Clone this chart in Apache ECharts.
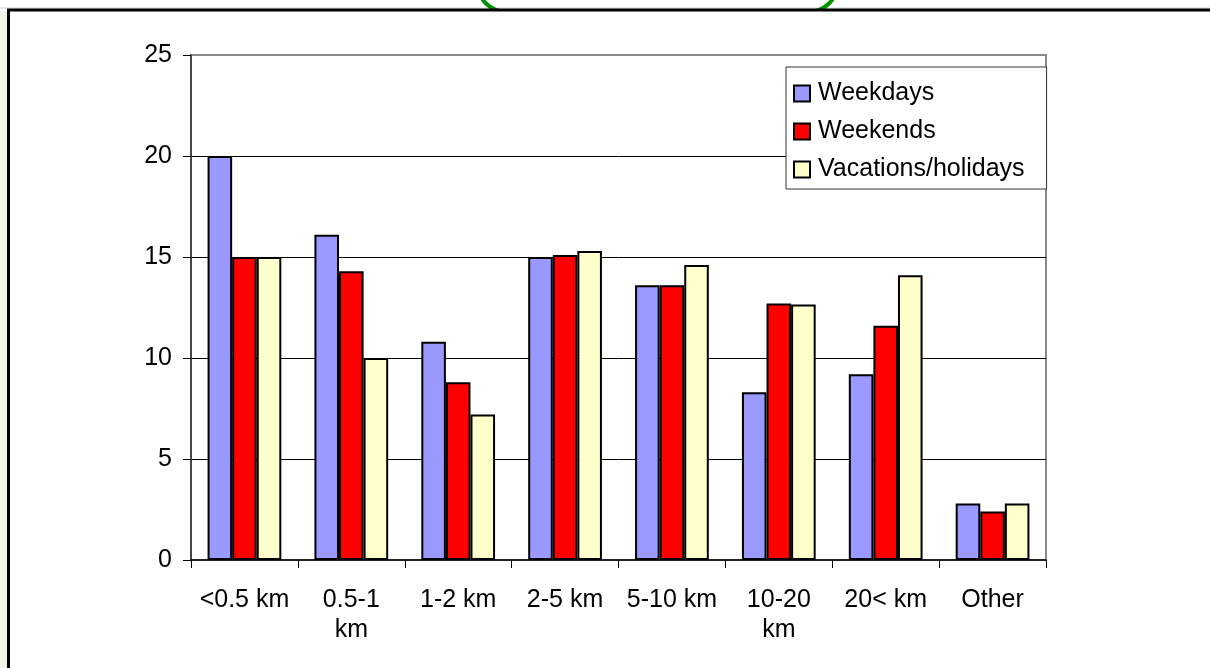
<!DOCTYPE html>
<html>
<head>
<meta charset="utf-8">
<script src="https://cdn.jsdelivr.net/npm/echarts@6/dist/echarts.min.js"></script>
<style>
  html, body { margin: 0; padding: 0; background: #fff; }
  #chart { width: 1210px; height: 668px; }
</style>
</head>
<body>
<div id="chart"></div>
<script>
// distance classes
const categories = ['<0.5 km', '0.5-1\nkm', '1-2 km', '2-5 km', '5-10 km', '10-20\nkm', '20< km', 'Other']
const weekdays = [20.0, 16.1, 10.8, 15.0, 13.6, 8.3, 9.2, 2.8]
const weekends = [15.0, 14.3, 8.8, 15.1, 13.6, 12.7, 11.6, 2.4]
const vacations = [15.0, 10.0, 7.2, 15.3, 14.6, 12.65, 14.1, 2.8]
const yTicks = [0, 5, 10, 15, 20, 25]

const font = 'Liberation Sans, Arial, sans-serif'

const chart = echarts.init(document.getElementById('chart'))

const barSeries = (name, data, color) => ({
  name,
  type: 'bar',
  data,
  barGap: '0%',
  barCategoryGap: '31%',
  itemStyle: { color, borderColor: '#000', borderWidth: 2 }
})

const option = {
  backgroundColor: '#fff',
  animation: false,
  textStyle: { fontFamily: font },
  graphic: [
    // slide decorations around the chart frame
    { type: 'rect', shape: { x: 0, y: 11, width: 7, height: 660 }, style: { fill: '#f4f4e4' }, z: -10 },
    { type: 'line', shape: { x1: 0, y1: 8, x2: 1210, y2: 8 }, style: { stroke: '#cfcfcf', lineWidth: 1 }, z: -10 },
    { type: 'rect', shape: { x: 477, y: -120, width: 361, height: 132, r: 30 }, style: { fill: 'none', stroke: '#009000', lineWidth: 4 }, z: -9 },
    { type: 'rect', shape: { x: 9, y: 11, width: 1205, height: 660 }, style: { fill: '#fff' }, z: -8 },
    { type: 'line', shape: { x1: 8.5, y1: 10, x2: 8.5, y2: 670 }, style: { stroke: '#000', lineWidth: 3 }, z: -7 },
    { type: 'line', shape: { x1: 7, y1: 10, x2: 1212, y2: 10 }, style: { stroke: '#000', lineWidth: 3 }, z: -7 }
  ],
  legend: {
    orient: 'vertical',
    left: 786,
    top: 67,
    icon: 'rect',
    itemWidth: 16,
    itemHeight: 16,
    itemGap: 13,
    padding: [14, 22, 7, 7],
    backgroundColor: '#fff',
    borderColor: '#333',
    borderWidth: 1,
    borderRadius: 0,
    textStyle: { fontSize: 25, color: '#000', fontFamily: font, padding: [0, 0, 0, 3] },
    data: ['Weekdays', 'Weekends', 'Vacations/holidays']
  },
  grid: {
    left: 191,
    right: 164,
    top: 55,
    bottom: 108,
    show: true,
    borderColor: '#888',
    borderWidth: 2
  },
  xAxis: {
    type: 'category',
    data: categories,
    boundaryGap: true,
    axisLine: { lineStyle: { color: '#000', width: 1.5 } },
    axisTick: { show: true, length: 8, alignWithLabel: false, lineStyle: { color: '#000' } },
    axisLabel: {
      interval: 0,
      fontSize: 25,
      color: '#000',
      lineHeight: 30,
      margin: 25,
      fontFamily: font
    }
  },
  yAxis: {
    type: 'value',
    min: yTicks[0],
    max: yTicks[yTicks.length - 1],
    interval: yTicks[1] - yTicks[0],
    axisLine: { show: true, lineStyle: { color: '#333', width: 1.5 } },
    axisTick: { show: true, length: 8, lineStyle: { color: '#000' } },
    axisLabel: { fontSize: 25, color: '#000', margin: 19, fontFamily: font },
    splitLine: { show: true, showMinLine: false, showMaxLine: false, lineStyle: { color: '#000', width: 1 } }
  },
  series: [
    barSeries('Weekdays', weekdays, '#9999ff'),
    barSeries('Weekends', weekends, '#ff0000'),
    barSeries('Vacations/holidays', vacations, '#ffffcc')
  ]
}

chart.setOption(option)
</script>
</body>
</html>
